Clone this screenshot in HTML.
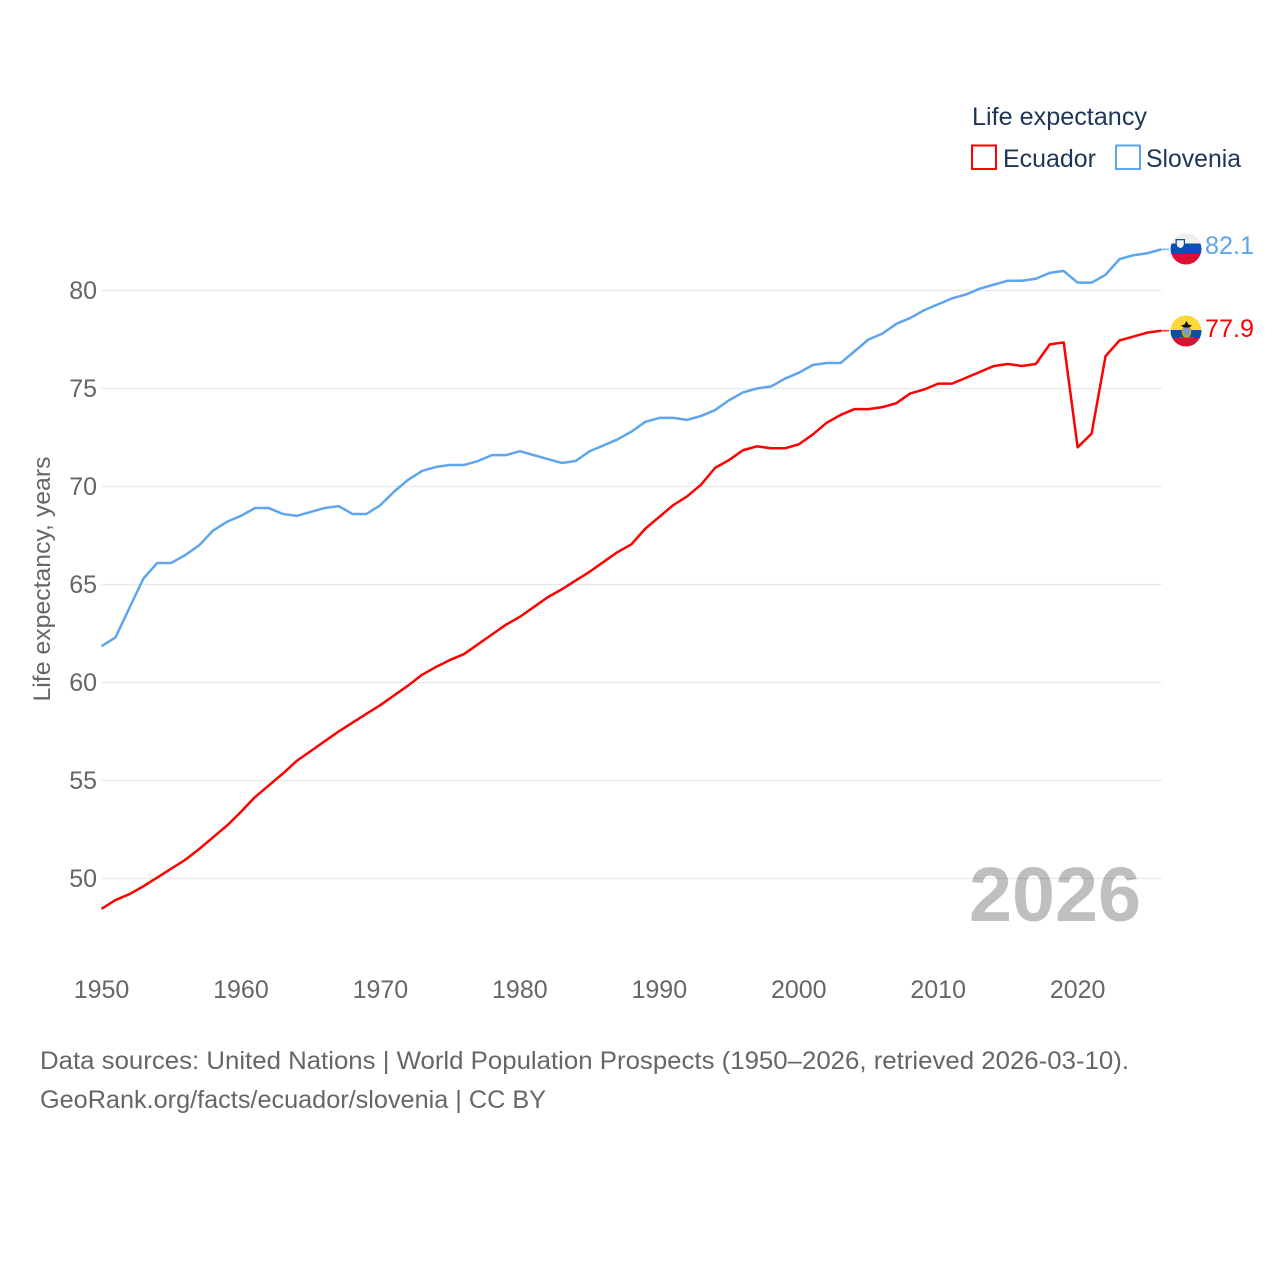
<!DOCTYPE html>
<html>
<head>
<meta charset="utf-8">
<title>Life expectancy: Ecuador and Slovenia</title>
<style>
html,body{margin:0;padding:0;background:#fff;width:1280px;height:1280px;overflow:hidden}
svg{display:block;font-family:"Liberation Sans",sans-serif}
</style>
</head>
<body>
<svg id="chart" width="1280" height="1280" viewBox="0 0 1280 1280" xmlns="http://www.w3.org/2000/svg">
  <defs>
    <clipPath id="clip-si"><circle cx="1186" cy="249" r="15.5"/></clipPath>
    <clipPath id="clip-ec"><circle cx="1186" cy="331" r="15.5"/></clipPath>
  </defs>
  <text x="969" y="921" font-size="77" font-weight="700" fill="#bfbfbf" textLength="172" lengthAdjust="spacingAndGlyphs">2026</text>
  <g id="grid"></g>
  <g id="yticks"></g>
  <g id="xticks"></g>
  <text transform="translate(50,579) rotate(-90)" text-anchor="middle" font-size="24" fill="#666" textLength="245" lengthAdjust="spacingAndGlyphs">Life expectancy, years</text>
  <g id="series"></g>

  <g>
    <text x="972" y="125" font-size="25" fill="#1d3557" textLength="175" lengthAdjust="spacingAndGlyphs">Life expectancy</text>
    <g>
      <rect x="972" y="145.5" width="24" height="23.5" fill="#fff" stroke="#ff0000" stroke-width="2"/>
      <text x="1003" y="167" font-size="25" fill="#1d3557" textLength="93" lengthAdjust="spacingAndGlyphs">Ecuador</text>
    </g>
    <g>
      <rect x="1116" y="145.5" width="24" height="23.5" fill="#fff" stroke="#5da5ee" stroke-width="2"/>
      <text x="1146" y="167" font-size="25" fill="#1d3557" textLength="95" lengthAdjust="spacingAndGlyphs">Slovenia</text>
    </g>
  </g>

  <g clip-path="url(#clip-si)">
    <rect x="1170" y="233" width="32" height="10.500" fill="#efefef"/>
    <rect x="1170" y="243.500" width="32" height="10.500" fill="#0b4fb3"/>
    <rect x="1170" y="254" width="32" height="11" fill="#dc1035"/>
    <path d="M1175.500 239h9.500v5.500q0 3.500-4.750 5q-4.750-1.500-4.750-5z" fill="#0b4fb3"/>
    <path d="M1176.800 240.300h7v4q0 2.500-3.500 3.800q-3.500-1.300-3.500-3.800z" fill="#f4f4f4"/>
  </g>
  <g clip-path="url(#clip-ec)">
    <rect x="1170" y="315" width="32" height="15" fill="#fcd83b"/>
    <rect x="1170" y="330" width="32" height="8" fill="#0a4cb0"/>
    <rect x="1170" y="338" width="32" height="9" fill="#dc1035"/>
    <ellipse cx="1186.500" cy="331.500" rx="4" ry="5.500" fill="#6f9fc4" stroke="#c9a42e" stroke-width="1.600"/>
    <path d="M1181 325.500l3.500-1 2-3.500 2 3.500 3.500 1-3 2h-5z" fill="#111"/>
    <rect x="1179" y="337.300" width="15" height="0.900" fill="#8a6d20"/>
  </g>
  <text id="value-si" x="1205" y="254" font-size="25" fill="#5da5ee" textLength="49" lengthAdjust="spacingAndGlyphs"></text>
  <text id="value-ec" x="1205" y="337" font-size="25" fill="#ff0000" textLength="49" lengthAdjust="spacingAndGlyphs"></text>

  <g>
    <text x="40" y="1069" font-size="25" fill="#666" textLength="1089" lengthAdjust="spacingAndGlyphs">Data sources: United Nations | World Population Prospects (1950–2026, retrieved 2026-03-10).</text>
    <text x="40" y="1108" font-size="25" fill="#666" textLength="506" lengthAdjust="spacingAndGlyphs">GeoRank.org/facts/ecuador/slovenia | CC BY</text>
  </g>
</svg>
<script>
const years = [1950,1951,1952,1953,1954,1955,1956,1957,1958,1959,1960,1961,1962,1963,1964,1965,1966,1967,1968,1969,1970,1971,1972,1973,1974,1975,1976,1977,1978,1979,1980,1981,1982,1983,1984,1985,1986,1987,1988,1989,1990,1991,1992,1993,1994,1995,1996,1997,1998,1999,2000,2001,2002,2003,2004,2005,2006,2007,2008,2009,2010,2011,2012,2013,2014,2015,2016,2017,2018,2019,2020,2021,2022,2023,2024,2025,2026];
const ecuador = [48.45,48.9,49.2,49.6,50.05,50.5,50.95,51.5,52.1,52.7,53.4,54.15,54.75,55.35,56,56.5,57,57.5,57.95,58.4,58.85,59.35,59.85,60.4,60.8,61.15,61.45,61.95,62.45,62.95,63.35,63.85,64.35,64.75,65.2,65.65,66.15,66.65,67.05,67.85,68.45,69.05,69.5,70.1,70.95,71.35,71.85,72.05,71.95,71.95,72.15,72.65,73.25,73.65,73.95,73.95,74.05,74.25,74.75,74.95,75.25,75.25,75.55,75.85,76.15,76.25,76.15,76.25,77.25,77.35,72,72.7,76.65,77.45,77.65,77.85,77.95];
const slovenia = [61.85,62.3,63.8,65.3,66.1,66.1,66.5,67,67.75,68.2,68.5,68.9,68.9,68.6,68.5,68.7,68.9,69,68.6,68.6,69.05,69.75,70.35,70.8,71,71.1,71.1,71.3,71.6,71.6,71.8,71.6,71.4,71.2,71.3,71.8,72.1,72.4,72.8,73.3,73.5,73.5,73.4,73.6,73.9,74.4,74.8,75,75.1,75.5,75.8,76.2,76.3,76.3,76.9,77.5,77.8,78.3,78.6,79,79.3,79.6,79.8,80.1,80.3,80.5,80.5,80.6,80.9,81,80.4,80.4,80.8,81.6,81.8,81.9,82.1];
const yTickValues = [50,55,60,65,70,75,80];
const xTickValues = [1950,1960,1970,1980,1990,2000,2010,2020];
const valueLabelEcuador = "77.9";
const valueLabelSlovenia = "82.1";

const NS = "http://www.w3.org/2000/svg";
const xScale = function (year) { return 101.5 + (year - 1950) * 13.945; };
const yScale = function (value) { return 878.5 - (value - 50) * 19.6; };
const PLOT_RIGHT = 1161.5;

const grid = document.getElementById('grid');
const yticks = document.getElementById('yticks');
const xticks = document.getElementById('xticks');
const seriesLayer = document.getElementById('series');

yTickValues.forEach(function (v) {
  const line = document.createElementNS(NS, 'line');
  
  
  line.setAttribute('x1', 101.5);
  line.setAttribute('x2', PLOT_RIGHT);
  line.setAttribute('y1', yScale(v));
  line.setAttribute('y2', yScale(v));
  line.setAttribute('stroke', '#000');
  line.setAttribute('stroke-opacity', '0.09');
  line.setAttribute('stroke-width', '1.2');
  grid.appendChild(line);

  const t = document.createElementNS(NS, 'text');
  
  
  t.setAttribute('x', 97);
  t.setAttribute('y', yScale(v) + 8.3);
  t.setAttribute('text-anchor', 'end');
  t.setAttribute('font-size', '25');
  t.setAttribute('fill', '#666');
  t.textContent = String(v);
  yticks.appendChild(t);
});

xTickValues.forEach(function (v) {
  const t = document.createElementNS(NS, 'text');
  
  
  t.setAttribute('x', xScale(v));
  t.setAttribute('y', 998);
  t.setAttribute('text-anchor', 'middle');
  t.setAttribute('font-size', '25');
  t.setAttribute('fill', '#666');
  t.textContent = String(v);
  xticks.appendChild(t);
});

function drawSeries(values, color, name) {
  const d = values.map(function (v, i) {
    return (i ? 'L' : 'M') + xScale(years[i]).toFixed(2) + ' ' + yScale(v).toFixed(2);
  }).join(' ');
  const p = document.createElementNS(NS, 'path');
  
  
  p.setAttribute('d', d);
  p.setAttribute('fill', 'none');
  p.setAttribute('stroke', color);
  p.setAttribute('stroke-width', '2.5');
  p.setAttribute('stroke-linejoin', 'round');
  seriesLayer.appendChild(p);

  const lastY = yScale(values[values.length - 1]);
  const c = document.createElementNS(NS, 'line');
  
  
  c.setAttribute('x1', PLOT_RIGHT);
  c.setAttribute('x2', 1169);
  c.setAttribute('y1', lastY);
  c.setAttribute('y2', lastY);
  c.setAttribute('stroke', color);
  c.setAttribute('stroke-width', '1.6');
  c.setAttribute('stroke-opacity', '0.8');
  seriesLayer.appendChild(c);
}
drawSeries(slovenia, '#5da5ee', 'line-slovenia');
drawSeries(ecuador, '#ff0000', 'line-ecuador');

document.getElementById('value-si').textContent = valueLabelSlovenia;
document.getElementById('value-ec').textContent = valueLabelEcuador;
</script>
</body>
</html>
